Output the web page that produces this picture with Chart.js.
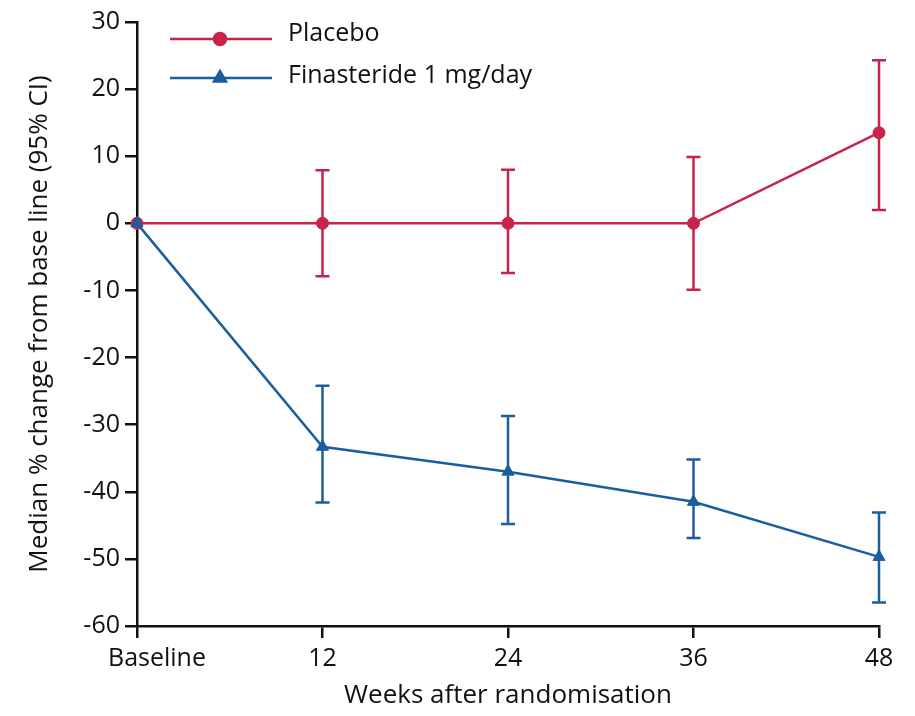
<!DOCTYPE html>
<html>
<head>
<meta charset="utf-8">
<script src="https://cdn.jsdelivr.net/npm/chart.js@4.4.1/dist/chart.umd.min.js"></script>
<style>
  html, body { margin: 0; padding: 0; background: #fff; }
  #wrap { width: 915px; height: 716px; }
</style>
</head>
<body>
<div id="wrap"><canvas id="line-chart" width="915" height="716"></canvas></div>
<script>
// Chart data
var weeks = [0, 12, 24, 36, 48];
var tickLabels = ["Baseline", "12", "24", "36", "48"];

var placebo = [0, 0, 0, 0, 13.5];
var placeboLow = [0, -7.9, -7.4, -9.9, 2.0];
var placeboHigh = [0, 7.9, 8.0, 9.9, 24.3];

var finasteride = [0, -33.3, -37.0, -41.5, -49.7];
var finasterideLow = [0, -41.6, -44.8, -46.9, -56.5];
var finasterideHigh = [0, -24.2, -28.7, -35.2, -43.1];

var red = "#C8234A";
var blue = "#1B5E9E";
var fontName = "'Open Sans', sans-serif";

function toPoints(ys) {
    var pts = [];
    for (var i = 0; i < weeks.length; i++) {
        pts.push({ x: weeks[i], y: ys[i] });
    }
    return pts;
}

// error bars, drawn through the chart scales
var errorBars = {
    id: "errorBars",
    beforeDatasetsDraw: function(chart) {
        var ctx = chart.ctx;
        var xs = chart.scales.x, ys = chart.scales.y;
        var sets = [
            { lo: placeboLow, hi: placeboHigh, color: red },
            { lo: finasterideLow, hi: finasterideHigh, color: blue }
        ];
        ctx.save();
        ctx.lineWidth = 2.5;
        sets.forEach(function(s) {
            ctx.strokeStyle = s.color;
            for (var i = 0; i < weeks.length; i++) {
                if (s.lo[i] === s.hi[i]) continue;
                var x = xs.getPixelForValue(weeks[i]);
                var y1 = ys.getPixelForValue(s.lo[i]);
                var y2 = ys.getPixelForValue(s.hi[i]);
                ctx.beginPath();
                ctx.moveTo(x, y1); ctx.lineTo(x, y2);
                ctx.moveTo(x - 7, y1); ctx.lineTo(x + 7, y1);
                ctx.moveTo(x - 7, y2); ctx.lineTo(x + 7, y2);
                ctx.stroke();
            }
        });
        ctx.restore();
    }
};

// "Baseline" sits a little right of its tick in the original
var nudgeBaseline = {
    id: "nudgeBaseline",
    beforeDraw: function(chart) {
        var items = chart.scales.x.getLabelItems();
        if (items.length && !items[0]._nudged) {
            items[0].options.translation[0] += 20;
            items[0]._nudged = true;
        }
    }
};

// legend with a line and marker sample
var lineLegend = {
    id: "lineLegend",
    afterDraw: function(chart) {
        var ctx = chart.ctx;
        var rows = [
            { text: "Placebo", color: red, style: "circle", y: 39, ty: 34 },
            { text: "Finasteride 1 mg/day", color: blue, style: "triangle", y: 78, ty: 76 }
        ];
        ctx.save();
        rows.forEach(function(r) {
            ctx.strokeStyle = r.color;
            ctx.lineWidth = 2.5;
            ctx.beginPath();
            ctx.moveTo(170, r.y); ctx.lineTo(272, r.y);
            ctx.stroke();
            ctx.fillStyle = r.color;
            Chart.helpers.drawPoint(ctx, { pointStyle: r.style, radius: r.style === "circle" ? 6 : 7, borderWidth: 1 }, 220, r.y);
            ctx.fillStyle = "#111";
            ctx.font = "25px " + fontName;
            ctx.textBaseline = "middle";
            ctx.textAlign = "left";
            ctx.fillText(r.text, 288, r.ty);
        });
        ctx.restore();
    }
};

var chartData = {
    datasets: [{
        label: "Finasteride 1 mg/day",
        data: toPoints(finasteride),
        borderColor: blue,
        backgroundColor: blue,
        pointStyle: "triangle",
        pointRadius: 7,
        pointBorderWidth: 1,
        borderWidth: 2.5,
        fill: false,
        clip: false,
        order: 0
    }, {
        label: "Placebo",
        data: toPoints(placebo),
        borderColor: red,
        backgroundColor: red,
        pointStyle: "circle",
        pointRadius: 6,
        pointBorderWidth: 1,
        borderWidth: 2.5,
        fill: false,
        clip: false,
        order: 1
    }]
};

var config = {
    type: "line",
    data: chartData,
    options: {
        responsive: false,
        animation: false,
        layout: { padding: { top: 22, right: 36, left: 0, bottom: 0 } },
        plugins: {
            legend: { display: false },
            tooltip: { enabled: false }
        },
        scales: {
            x: {
                type: "linear",
                min: 0,
                max: 48,
                afterFit: function(scale) { scale.height = 90; },
                afterBuildTicks: function(scale) {
                    scale.ticks = weeks.map(function(w) { return { value: w }; });
                },
                ticks: {
                    color: "#111",
                    padding: 6,
                    font: { family: fontName, size: 25 },
                    callback: function(v) {
                        var i = weeks.indexOf(v);
                        return i >= 0 ? tickLabels[i] : "";
                    }
                },
                grid: { drawOnChartArea: false, drawTicks: true, tickLength: 12, color: "#111", lineWidth: 2.5 },
                border: { color: "#111", width: 2.5 },
                title: {
                    display: true,
                    text: "Weeks after randomisation",
                    color: "#111",
                    font: { family: fontName, size: 26 },
                    padding: { top: 0, bottom: 5 }
                }
            },
            y: {
                min: -60,
                max: 30,
                afterFit: function(scale) { scale.width = 137; },
                ticks: {
                    stepSize: 10,
                    color: "#111",
                    padding: 5,
                    font: { family: fontName, size: 25 }
                },
                grid: { drawOnChartArea: false, drawTicks: true, tickLength: 12, color: "#111", lineWidth: 2.5 },
                border: { color: "#111", width: 2.5 },
                title: {
                    display: true,
                    text: "Median % change from base line (95% CI)",
                    color: "#111",
                    font: { family: fontName, size: 26 },
                    padding: { top: 24, bottom: 0 }
                }
            }
        }
    },
    plugins: [errorBars, nudgeBaseline, lineLegend]
};

var ctx = document.getElementById("line-chart");
var lineChart = new Chart(ctx, config);
</script>
</body>
</html>
